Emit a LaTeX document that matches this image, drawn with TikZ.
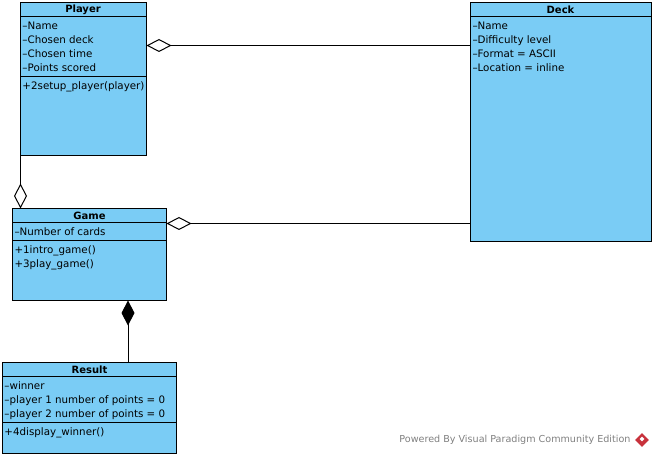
\documentclass[tikz,border=0pt]{standalone}
\usepackage{fontspec}
\setmainfont{DejaVu Sans}
\usetikzlibrary{arrows.meta,shapes.geometric}
\definecolor{classblue}{HTML}{7ACCF5}
\definecolor{markgray}{HTML}{808080}
\definecolor{markred}{HTML}{C8323C}

\begin{document}
\begin{tikzpicture}[x=1pt,y=-1pt,line width=1pt,
    class node/.style={rectangle,draw,fill=classblue,anchor=north west,
      outer sep=0pt,inner sep=0pt},
    title node/.style={font=\fontsize{10}{14}\selectfont\bfseries,inner sep=0pt},
    member node/.style={anchor=north west,align=left,inner sep=0pt,
      font=\fontsize{10.3}{14}\selectfont},
    shared/.style={{Diamond[open,fill=white,length=25pt,width=13pt]}-},
    owned/.style={{Diamond[fill=black,length=25pt,width=13pt]}-}]

    \useasboundingbox (0,0) rectangle (654,457);

    \node[class node,minimum width=126pt,minimum height=153.5pt] (Player) at (20.5,2.5) {};
    \node[class node,minimum width=180.5pt,minimum height=239pt] (Deck) at (470.5,2.5) {};
    \node[class node,minimum width=154pt,minimum height=92pt] (Game) at (12.5,208.5) {};
    \node[class node,minimum width=174pt,minimum height=90.5pt] (Result) at (2.5,362.5) {};

    \node[title node] (PlayerName) at (83,9.5) {Player};
    \node[title node] (DeckName) at (560.5,9.5) {Deck};
    \node[title node] (GameName) at (89.5,215.5) {Game};
    \node[title node] (ResultName) at (89.5,369.5) {Result};

    % compartments
    \draw (Player.west |- 0,16.5) -- (Player.east |- 0,16.5);
    \draw (Deck.west |- 0,16.5) -- (Deck.east |- 0,16.5);
    \draw (Game.west |- 0,222.5) -- (Game.east |- 0,222.5);
    \draw (Result.west |- 0,376.5) -- (Result.east |- 0,376.5);
    \draw (Player.west |- 0,76.5) -- (Player.east |- 0,76.5);
    \draw (Game.west |- 0,240.5) -- (Game.east |- 0,240.5);
    \draw (Result.west |- 0,422.5) -- (Result.east |- 0,422.5);

    \node[member node] (PlayerAttrs) at (22,21) {--Name\\--Chosen deck\\--Chosen time\\--Points scored};
    \node[member node] (PlayerOps) at (22,81) {+2setup\_player(player)};
    \node[member node] (DeckAttrs) at (472,21) {--Name\\--Difficulty level\\--Format = ASCII\\--Location = inline};
    \node[member node] (GameAttrs) at (14,227) {--Number of cards};
    \node[member node] (GameOps) at (14,245) {+1intro\_game()\\+3play\_game()};
    \node[member node] (ResultAttrs) at (4,381) {--winner\\--player 1 number of points = 0\\--player 2 number of points = 0};
    \node[member node] (ResultOps) at (4,427) {+4display\_winner()};

    % associations
    \coordinate (upperRow) at (300,45.5);
    \coordinate (lowerRow) at (300,223.5);
    \coordinate (leftCol) at (20.5,180);
    \coordinate (rightCol) at (128,330);
    \draw[shared] (Player.east |- upperRow) -- (Deck.west |- upperRow);
    \draw[shared] (Game.east |- lowerRow) -- (Deck.west |- lowerRow);
    \draw[shared] (leftCol |- Game.north) -- (leftCol |- Player.south);
    \draw[owned] (rightCol |- Game.south) -- (rightCol |- Result.north);

    % watermark
    \node[anchor=east,inner sep=0pt,text=markgray,font=\fontsize{9.6}{10}\selectfont] (Powered) at (631,440)
      {Powered By Visual Paradigm Community Edition};
    \node[diamond,fill=markred,inner sep=0pt,minimum size=14pt] (Logo) at (642,440) {};
    \node[diamond,fill=white,inner sep=0pt,minimum size=5pt] (LogoMark) at (642,439) {};
\end{tikzpicture}
\end{document}
